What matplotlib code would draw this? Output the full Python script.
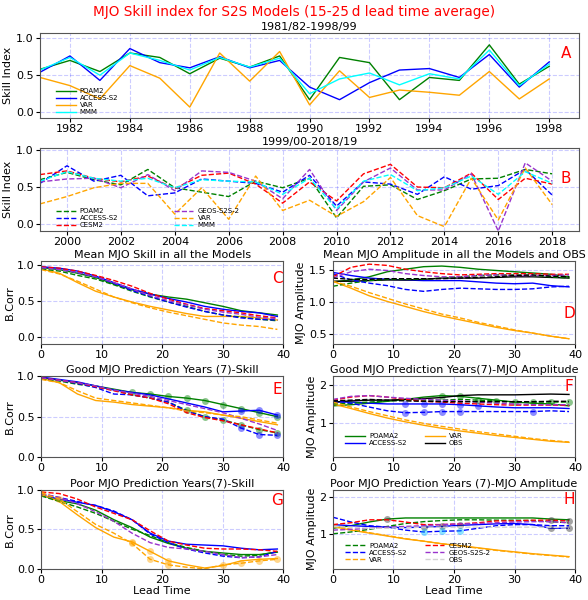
import matplotlib.pyplot as plt
import numpy as np

# ---- skill index per winter (15-25 d lead average) ----
years_a = np.arange(1981, 1999)
a_poama2 = [0.58, 0.70, 0.55, 0.80, 0.74, 0.52, 0.73, 0.61, 0.76, 0.17, 0.74, 0.67, 0.17, 0.47, 0.43, 0.91, 0.38, 0.62]
a_access = [0.54, 0.76, 0.43, 0.86, 0.67, 0.60, 0.75, 0.60, 0.70, 0.34, 0.17, 0.40, 0.57, 0.59, 0.47, 0.78, 0.34, 0.68]
a_var = [0.47, 0.36, 0.18, 0.63, 0.46, 0.07, 0.80, 0.42, 0.82, 0.10, 0.56, 0.20, 0.30, 0.27, 0.23, 0.55, 0.18, 0.45]
a_mmm = [0.57, 0.74, 0.50, 0.80, 0.70, 0.57, 0.74, 0.61, 0.73, 0.25, 0.45, 0.53, 0.37, 0.52, 0.45, 0.84, 0.36, 0.65]

years_b = np.arange(1999, 2019)
b_poama2 = [0.60, 0.70, 0.60, 0.53, 0.74, 0.49, 0.43, 0.37, 0.58, 0.49, 0.62, 0.08, 0.51, 0.53, 0.33, 0.45, 0.61, 0.62, 0.74, 0.68]
b_access = [0.55, 0.79, 0.58, 0.66, 0.38, 0.42, 0.61, 0.58, 0.55, 0.43, 0.66, 0.24, 0.57, 0.54, 0.40, 0.64, 0.47, 0.52, 0.74, 0.39]
b_cesm2 = [0.67, 0.72, 0.62, 0.57, 0.65, 0.48, 0.66, 0.69, 0.54, 0.28, 0.57, 0.31, 0.68, 0.81, 0.50, 0.49, 0.69, 0.33, 0.62, 0.54]
b_geos = [0.57, 0.61, 0.62, 0.49, 0.67, 0.45, 0.72, 0.70, 0.58, 0.34, 0.74, 0.18, 0.57, 0.76, 0.46, 0.46, 0.68, -0.10, 0.83, 0.58]
b_var = [0.27, 0.37, 0.49, 0.55, 0.55, 0.13, 0.49, 0.06, 0.65, 0.18, 0.32, 0.10, 0.30, 0.63, 0.11, -0.04, 0.62, 0.05, 0.76, 0.26]
b_mmm = [0.58, 0.71, 0.62, 0.58, 0.62, 0.49, 0.60, 0.58, 0.57, 0.40, 0.62, 0.20, 0.58, 0.67, 0.45, 0.49, 0.65, 0.40, 0.71, 0.55]

# ---- lead-time curves (solid: 1981-1999 hindcasts, dashed: 1999-2019) ----
lead = np.array([0, 3, 6, 9, 12, 15, 18, 21, 24, 27, 30, 33, 36, 39])

# C: mean skill
c_poama2 = [0.96, 0.93, 0.88, 0.82, 0.73, 0.65, 0.59, 0.55, 0.52, 0.47, 0.42, 0.36, 0.33, 0.30]
c_access = [0.97, 0.95, 0.91, 0.84, 0.75, 0.66, 0.59, 0.53, 0.48, 0.42, 0.38, 0.35, 0.33, 0.28]
c_var = [0.94, 0.88, 0.75, 0.63, 0.55, 0.48, 0.42, 0.37, 0.32, 0.28, 0.28, 0.28, 0.26, 0.23]
c_poama2_d = [0.94, 0.91, 0.85, 0.80, 0.72, 0.63, 0.55, 0.48, 0.42, 0.35, 0.30, 0.27, 0.24, 0.22]
c_access_d = [0.96, 0.94, 0.89, 0.83, 0.74, 0.64, 0.56, 0.48, 0.41, 0.35, 0.30, 0.26, 0.24, 0.23]
c_cesm2_d = [0.97, 0.95, 0.91, 0.85, 0.78, 0.70, 0.60, 0.52, 0.45, 0.39, 0.36, 0.33, 0.29, 0.26]
c_geos_d = [0.96, 0.93, 0.89, 0.83, 0.75, 0.66, 0.57, 0.50, 0.44, 0.38, 0.34, 0.31, 0.27, 0.25]
c_var_d = [0.93, 0.87, 0.77, 0.66, 0.55, 0.47, 0.40, 0.34, 0.29, 0.24, 0.19, 0.16, 0.14, 0.10]

# D: mean amplitude
d_poama2 = [1.32, 1.35, 1.40, 1.48, 1.52, 1.56, 1.57, 1.55, 1.52, 1.50, 1.48, 1.46, 1.44, 1.40]
d_access = [1.47, 1.42, 1.38, 1.36, 1.35, 1.34, 1.34, 1.34, 1.32, 1.30, 1.29, 1.30, 1.26, 1.24]
d_var = [1.33, 1.22, 1.10, 1.01, 0.93, 0.85, 0.78, 0.72, 0.66, 0.60, 0.55, 0.51, 0.46, 0.42]
d_obs = [1.33, 1.33, 1.34, 1.35, 1.35, 1.36, 1.38, 1.38, 1.38, 1.39, 1.40, 1.40, 1.39, 1.38]
d_poama2_d = [1.25, 1.30, 1.34, 1.36, 1.36, 1.36, 1.38, 1.40, 1.42, 1.43, 1.43, 1.42, 1.40, 1.38]
d_access_d = [1.45, 1.35, 1.30, 1.26, 1.20, 1.17, 1.20, 1.22, 1.21, 1.20, 1.20, 1.21, 1.24, 1.25]
d_cesm2_d = [1.40, 1.55, 1.60, 1.58, 1.52, 1.48, 1.45, 1.43, 1.44, 1.45, 1.45, 1.45, 1.44, 1.44]
d_geos_d = [1.38, 1.48, 1.52, 1.50, 1.45, 1.42, 1.40, 1.40, 1.42, 1.43, 1.42, 1.42, 1.42, 1.43]
d_var_d = [1.33, 1.25, 1.15, 1.06, 0.97, 0.89, 0.81, 0.75, 0.68, 0.62, 0.56, 0.51, 0.46, 0.42]
d_obs_d = [1.38, 1.36, 1.36, 1.37, 1.37, 1.37, 1.37, 1.38, 1.39, 1.40, 1.42, 1.43, 1.41, 1.40]

# E: good years skill
e_poama2 = [0.98, 0.95, 0.92, 0.88, 0.84, 0.80, 0.78, 0.75, 0.73, 0.70, 0.65, 0.60, 0.55, 0.50]
e_access = [0.99, 0.96, 0.93, 0.88, 0.83, 0.80, 0.77, 0.72, 0.67, 0.62, 0.56, 0.57, 0.58, 0.52]
e_var = [0.97, 0.92, 0.78, 0.70, 0.68, 0.65, 0.63, 0.61, 0.58, 0.56, 0.52, 0.48, 0.44, 0.40]
e_poama2_d = [0.97, 0.94, 0.90, 0.87, 0.83, 0.77, 0.73, 0.68, 0.58, 0.50, 0.46, 0.40, 0.34, 0.30]
e_access_d = [0.98, 0.95, 0.91, 0.86, 0.78, 0.77, 0.73, 0.68, 0.57, 0.50, 0.47, 0.36, 0.28, 0.27]
e_cesm2_d = [0.98, 0.95, 0.92, 0.87, 0.82, 0.77, 0.73, 0.66, 0.55, 0.49, 0.45, 0.40, 0.35, 0.30]
e_geos_d = [0.98, 0.95, 0.92, 0.88, 0.83, 0.79, 0.75, 0.70, 0.65, 0.60, 0.55, 0.48, 0.41, 0.33]
e_var_d = [0.96, 0.92, 0.82, 0.73, 0.70, 0.67, 0.64, 0.61, 0.57, 0.55, 0.52, 0.50, 0.46, 0.42]

# F: good years amplitude
f_poama2 = [1.45, 1.48, 1.52, 1.57, 1.62, 1.68, 1.72, 1.70, 1.65, 1.60, 1.55, 1.52, 1.50, 1.45]
f_access = [1.55, 1.55, 1.52, 1.50, 1.50, 1.50, 1.50, 1.48, 1.45, 1.42, 1.40, 1.40, 1.40, 1.38]
f_var = [1.50, 1.38, 1.25, 1.13, 1.03, 0.94, 0.86, 0.79, 0.73, 0.67, 0.62, 0.57, 0.52, 0.49]
f_obs = [1.55, 1.58, 1.60, 1.60, 1.62, 1.64, 1.67, 1.72, 1.74, 1.74, 1.74, 1.75, 1.76, 1.75]
f_poama2_d = [1.50, 1.52, 1.55, 1.58, 1.60, 1.60, 1.60, 1.62, 1.60, 1.58, 1.55, 1.55, 1.55, 1.55]
f_access_d = [1.60, 1.52, 1.42, 1.32, 1.27, 1.28, 1.30, 1.30, 1.30, 1.30, 1.30, 1.30, 1.32, 1.30]
f_cesm2_d = [1.60, 1.68, 1.72, 1.68, 1.62, 1.57, 1.55, 1.52, 1.50, 1.48, 1.47, 1.47, 1.47, 1.46]
f_geos_d = [1.62, 1.70, 1.72, 1.68, 1.65, 1.62, 1.60, 1.58, 1.55, 1.52, 1.50, 1.48, 1.48, 1.48]
f_var_d = [1.55, 1.42, 1.30, 1.19, 1.08, 0.99, 0.91, 0.84, 0.77, 0.71, 0.65, 0.59, 0.54, 0.50]
f_obs_d = [1.58, 1.60, 1.62, 1.60, 1.58, 1.57, 1.56, 1.56, 1.56, 1.56, 1.56, 1.56, 1.57, 1.57]

# G: poor years skill
g_poama2 = [0.93, 0.86, 0.82, 0.74, 0.62, 0.52, 0.40, 0.32, 0.26, 0.22, 0.20, 0.18, 0.18, 0.21]
g_access = [0.93, 0.88, 0.84, 0.80, 0.72, 0.62, 0.45, 0.35, 0.31, 0.30, 0.29, 0.26, 0.24, 0.25]
g_var = [0.94, 0.85, 0.68, 0.52, 0.40, 0.34, 0.22, 0.10, 0.05, 0.01, 0.04, 0.10, 0.12, 0.13]
g_poama2_d = [0.92, 0.85, 0.78, 0.70, 0.60, 0.50, 0.42, 0.33, 0.27, 0.22, 0.18, 0.16, 0.17, 0.22]
g_access_d = [0.95, 0.90, 0.85, 0.80, 0.73, 0.62, 0.44, 0.33, 0.25, 0.20, 0.16, 0.14, 0.15, 0.22]
g_cesm2_d = [0.97, 0.95, 0.88, 0.78, 0.70, 0.62, 0.48, 0.35, 0.30, 0.26, 0.25, 0.25, 0.24, 0.22]
g_geos_d = [0.95, 0.90, 0.82, 0.72, 0.60, 0.45, 0.33, 0.27, 0.25, 0.22, 0.18, 0.14, 0.15, 0.18]
g_var_d = [0.96, 0.88, 0.72, 0.56, 0.45, 0.32, 0.12, 0.05, 0.02, 0.00, 0.05, 0.07, 0.10, 0.12]

# H: poor years amplitude
h_poama2 = [1.15, 1.22, 1.32, 1.40, 1.43, 1.43, 1.43, 1.43, 1.43, 1.43, 1.43, 1.43, 1.40, 1.38]
h_access = [1.25, 1.22, 1.20, 1.18, 1.17, 1.18, 1.20, 1.23, 1.25, 1.27, 1.28, 1.25, 1.15, 1.15]
h_var = [1.20, 1.10, 1.02, 0.94, 0.86, 0.80, 0.73, 0.68, 0.62, 0.56, 0.51, 0.46, 0.42, 0.38]
h_poama2_d = [1.00, 1.05, 1.12, 1.20, 1.28, 1.33, 1.36, 1.38, 1.38, 1.37, 1.37, 1.36, 1.33, 1.30]
h_access_d = [1.45, 1.32, 1.22, 1.18, 1.10, 1.05, 1.07, 1.08, 1.15, 1.22, 1.25, 1.25, 1.22, 1.22]
h_cesm2_d = [1.25, 1.30, 1.38, 1.38, 1.32, 1.25, 1.25, 1.27, 1.30, 1.35, 1.35, 1.37, 1.37, 1.35]
h_geos_d = [1.10, 1.12, 1.15, 1.18, 1.20, 1.22, 1.25, 1.27, 1.28, 1.30, 1.32, 1.33, 1.33, 1.30]
h_var_d = [1.22, 1.12, 1.03, 0.95, 0.87, 0.80, 0.73, 0.67, 0.61, 0.55, 0.50, 0.45, 0.41, 0.37]
h_obs_d = [1.20, 1.18, 1.15, 1.15, 1.17, 1.18, 1.18, 1.18, 1.18, 1.18, 1.18, 1.18, 1.18, 1.15]

# lead days where differences are significant (marked with circles)
e_sig_poama2 = [15, 18, 21, 24, 27, 30, 33, 36, 39]
e_sig_access = [33, 36, 39]
e_sig_poama2_d = [24, 27, 30, 33, 36, 39]
e_sig_access_d = [33, 36, 39]
f_sig_poama2 = [18, 21]
f_sig_access = [12, 15, 18, 21, 24]
f_sig_poama2_d = [24, 27, 30, 33, 36, 39]
f_sig_access_d = [12, 15, 18, 21, 33]
g_sig_var = [15, 18, 21]
g_sig_var_d = [0, 3, 15, 18, 21, 30, 33, 36, 39]
h_sig_poama2 = [9]
h_sig_access = [15, 18, 21, 36, 39]
h_sig_cesm2_d = [36, 39]
h_sig_access_d = [15, 18, 21]

GREEN, BLUE, ORANGE, RED, PURPLE = 'green', 'blue', 'orange', 'red', '#9933cc'

fig = plt.figure(figsize=(5.88, 6.0), dpi=100)
fig.suptitle('MJO Skill index for S2S Models (15-25\u2009d lead time average)',
             color='red', fontsize=9.8, y=0.992)


def style(ax, title, letter, ly):
    ax.set_title(title, fontsize=8, pad=2)
    ax.grid(True, color='blue', alpha=0.2, linestyle='--', linewidth=0.8)
    ax.tick_params(labelsize=8, length=3, pad=1.5)
    for s in ax.spines.values():
        s.set_color('#555555')
    ax.text(0.975, ly, letter, transform=ax.transAxes, color='red',
            fontsize=11, ha='center', va='center')


def curve(ax, y, color, ls='-', sig=None, mcolor=None, label=None):
    y = np.asarray(y)
    ax.plot(lead, y, color=color, ls=ls, lw=1, label=label)
    if sig:
        m = np.isin(lead, sig)
        ax.plot(lead[m], y[m], 'o', ls='none', color=mcolor or color,
                alpha=0.45, ms=5, mec='none')


leg_kw = dict(frameon=False, fontsize=5, handlelength=2.8,
              labelspacing=0.15, borderaxespad=0, handletextpad=0.6)

# A
ax = fig.add_axes([0.068, 0.803, 0.917, 0.142])
ax.plot(years_a, a_poama2, color=GREEN, lw=1, label='POAM2')
ax.plot(years_a, a_access, color=BLUE, lw=1, label='ACCESS-S2')
ax.plot(years_a, a_var, color=ORANGE, lw=1, label='VAR')
ax.plot(years_a, a_mmm, color='cyan', lw=1, label='MMM')
ax.set_xlim(1981, 1999)
ax.set_ylim(-0.08, 1.07)
ax.set_xticks(np.arange(1982, 1999, 2))
ax.set_yticks([0.0, 0.5, 1.0])
ax.set_ylabel('Skill Index', fontsize=8, labelpad=2)
ax.legend(loc='lower left', bbox_to_anchor=(0.025, 0.0), **leg_kw)
style(ax, '1981/82-1998/99', 'A', 0.76)

# B
ax = fig.add_axes([0.068, 0.615, 0.917, 0.138])
ax.plot(years_b, b_poama2, color=GREEN, ls='--', lw=1, label='POAM2')
ax.plot(years_b, b_access, color=BLUE, ls='--', lw=1, label='ACCESS-S2')
ax.plot(years_b, b_cesm2, color=RED, ls='--', lw=1, label='CESM2')
ax.plot(years_b, b_geos, color=PURPLE, ls='--', lw=1, label='GEOS-S2S-2')
ax.plot(years_b, b_var, color=ORANGE, ls='--', lw=1, label='VAR')
ax.plot(years_b, b_mmm, color='cyan', ls='--', lw=1, label='MMM')
ax.set_xlim(1999, 2019)
ax.set_ylim(-0.1, 1.03)
ax.set_xticks(np.arange(2000, 2019, 2))
ax.set_yticks([0.0, 0.5, 1.0])
ax.set_ylabel('Skill Index', fontsize=8, labelpad=2)
ax.legend(loc='lower left', bbox_to_anchor=(0.025, 0.0), ncol=2,
          columnspacing=8, **leg_kw)
style(ax, '1999/00-2018/19', 'B', 0.63)

# C
ax = fig.add_axes([0.070, 0.427, 0.412, 0.138])
curve(ax, c_poama2, GREEN)
curve(ax, c_access, BLUE)
curve(ax, c_var, ORANGE)
curve(ax, c_poama2_d, GREEN, '--')
curve(ax, c_access_d, BLUE, '--')
curve(ax, c_cesm2_d, RED, '--')
curve(ax, c_geos_d, PURPLE, '--')
curve(ax, c_var_d, ORANGE, '--')
ax.set_xlim(0, 40)
ax.set_ylim(-0.1, 1.05)
ax.set_yticks([0.0, 0.5, 1.0])
ax.set_ylabel('B.Corr', fontsize=8, labelpad=2)
style(ax, 'Mean MJO Skill in all the Models', 'C', 0.79)

# D
ax = fig.add_axes([0.566, 0.427, 0.412, 0.138])
curve(ax, d_poama2, GREEN)
curve(ax, d_access, BLUE)
curve(ax, d_var, ORANGE)
curve(ax, d_obs, 'black')
curve(ax, d_poama2_d, GREEN, '--')
curve(ax, d_access_d, BLUE, '--')
curve(ax, d_cesm2_d, RED, '--')
curve(ax, d_geos_d, PURPLE, '--')
curve(ax, d_var_d, ORANGE, '--')
curve(ax, d_obs_d, 'black', '--')
ax.set_xlim(0, 40)
ax.set_ylim(0.34, 1.65)
ax.set_yticks([0.5, 1.0, 1.5])
ax.set_ylabel('MJO Amplitude', fontsize=8, labelpad=2)
style(ax, 'Mean MJO Amplitude in all the Models and OBS', 'D', 0.36)

# E
ax = fig.add_axes([0.070, 0.238, 0.412, 0.135])
curve(ax, e_poama2, GREEN, sig=e_sig_poama2)
curve(ax, e_access, BLUE, sig=e_sig_access)
curve(ax, e_var, ORANGE)
curve(ax, e_poama2_d, GREEN, '--', sig=e_sig_poama2_d)
curve(ax, e_access_d, BLUE, '--', sig=e_sig_access_d)
curve(ax, e_cesm2_d, RED, '--')
curve(ax, e_geos_d, PURPLE, '--')
curve(ax, e_var_d, ORANGE, '--')
ax.set_xlim(0, 40)
ax.set_ylim(0, 1)
ax.set_yticks([0.0, 0.5, 1.0])
ax.set_ylabel('B.Corr', fontsize=8, labelpad=2)
style(ax, 'Good MJO Prediction Years (7)-Skill', 'E', 0.84)

# F
ax = fig.add_axes([0.566, 0.238, 0.412, 0.135])
curve(ax, f_poama2, GREEN, sig=f_sig_poama2, label='POAMA2')
curve(ax, f_access, BLUE, sig=f_sig_access, label='ACCESS-S2')
curve(ax, f_var, ORANGE, label='VAR')
curve(ax, f_obs, 'black', label='OBS')
curve(ax, f_poama2_d, GREEN, '--', sig=f_sig_poama2_d)
curve(ax, f_access_d, BLUE, '--', sig=f_sig_access_d)
curve(ax, f_cesm2_d, RED, '--')
curve(ax, f_geos_d, PURPLE, '--')
curve(ax, f_var_d, ORANGE, '--')
curve(ax, f_obs_d, 'black', '--')
ax.set_xlim(0, 40)
ax.set_ylim(0.1, 2.23)
ax.set_yticks([1, 2])
ax.set_ylabel('MJO Amplitude', fontsize=8, labelpad=2)
ax.legend(loc='lower left', bbox_to_anchor=(0.04, 0.1), ncol=2,
          columnspacing=2.6, **leg_kw)
style(ax, 'Good MJO Prediction Years(7)-MJO Amplitude', 'F', 0.87)

# G
ax = fig.add_axes([0.070, 0.052, 0.412, 0.132])
curve(ax, g_poama2, GREEN)
curve(ax, g_access, BLUE)
curve(ax, g_var, ORANGE, sig=g_sig_var)
curve(ax, g_poama2_d, GREEN, '--')
curve(ax, g_access_d, BLUE, '--')
curve(ax, g_cesm2_d, RED, '--')
curve(ax, g_geos_d, PURPLE, '--')
curve(ax, g_var_d, ORANGE, '--', sig=g_sig_var_d)
ax.set_xlim(0, 40)
ax.set_ylim(0, 1)
ax.set_yticks([0.0, 0.5, 1.0])
ax.set_ylabel('B.Corr', fontsize=8, labelpad=2)
ax.set_xlabel('Lead Time', fontsize=8, labelpad=1)
style(ax, 'Poor MJO Prediction Years(7)-Skill', 'G', 0.86)

# H
ax = fig.add_axes([0.566, 0.052, 0.412, 0.132])
curve(ax, h_poama2, GREEN, sig=h_sig_poama2, mcolor='#333333')
curve(ax, h_access, BLUE, sig=h_sig_access, mcolor='#333333')
curve(ax, h_var, ORANGE)
curve(ax, h_poama2_d, GREEN, '--', label='POAMA2')
curve(ax, h_access_d, BLUE, '--', sig=h_sig_access_d, mcolor='deepskyblue', label='ACCESS-S2')
curve(ax, h_var_d, ORANGE, '--', label='VAR')
curve(ax, h_cesm2_d, RED, '--', sig=h_sig_cesm2_d, mcolor='#333333', label='CESM2')
curve(ax, h_geos_d, PURPLE, '--', label='GEOS-S2S-2')
curve(ax, h_obs_d, 'lightgray', '--', label='OBS')
ax.set_xlim(0, 40)
ax.set_ylim(0.05, 2.2)
ax.set_yticks([1, 2])
ax.set_ylabel('MJO Amplitude', fontsize=8, labelpad=2)
ax.set_xlabel('Lead Time', fontsize=8, labelpad=1)
ax.legend(loc='lower left', bbox_to_anchor=(0.04, 0.04), ncol=2,
          columnspacing=2.5, **leg_kw)
style(ax, 'Poor MJO Prediction Years (7)-MJO Amplitude', 'H', 0.88)

fig.savefig('out.png', dpi=100)
